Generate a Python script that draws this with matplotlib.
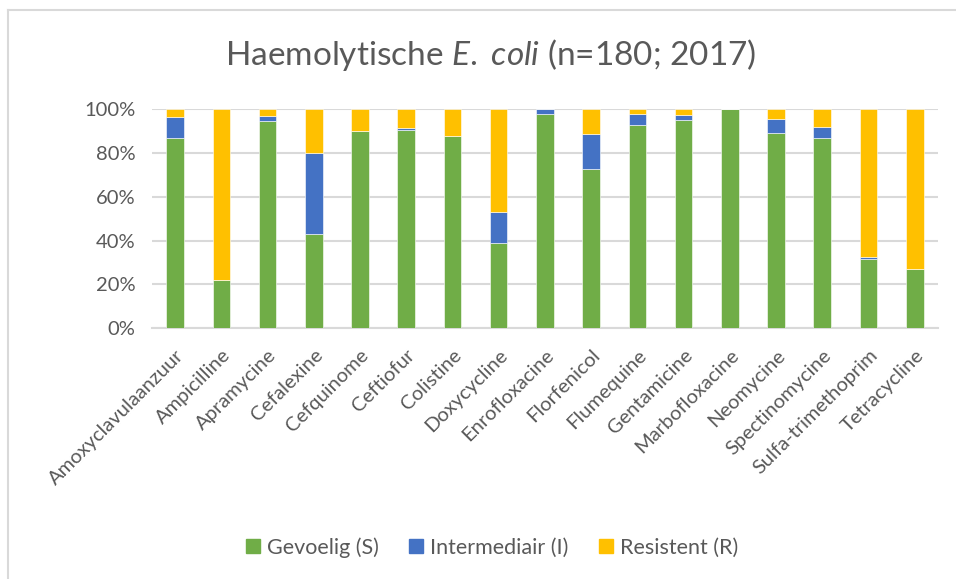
import matplotlib
matplotlib.use("Agg")
import matplotlib.pyplot as plt
import matplotlib.transforms as mtransforms
from matplotlib.lines import Line2D
import numpy as np

plt.rcParams['font.family'] = ['Lato', 'DejaVu Sans']
plt.rcParams['mathtext.fontset'] = 'custom'
plt.rcParams['mathtext.rm'] = 'Lato'
plt.rcParams['mathtext.it'] = 'Lato:italic'

categories = ["Amoxyclavulaanzuur", "Ampicilline", "Apramycine", "Cefalexine",
              "Cefquinome", "Ceftiofur", "Colistine", "Doxycycline",
              "Enrofloxacine", "Florfenicol", "Flumequine", "Gentamicine",
              "Marbofloxacine", "Neomycine", "Spectinomycine",
              "Sulfa-trimethoprim", "Tetracycline"]

gevoelig = [86.7, 22.0, 94.4, 42.8, 90.0, 90.3, 87.8, 38.9, 97.8, 72.8,
            92.8, 95.0, 100.0, 88.9, 86.7, 31.7, 27.2]
intermediair = [9.5, 0.0, 2.2, 37.2, 0.0, 0.8, 0.0, 13.9, 2.2, 15.6,
                4.7, 2.2, 0.0, 6.7, 5.0, 0.6, 0.0]
resistent = [3.8, 78.0, 3.4, 20.0, 10.0, 8.9, 12.2, 47.2, 0.0, 11.6,
             2.5, 2.8, 0.0, 4.4, 8.3, 67.7, 72.8]

series_names = ["Gevoelig (S)", "Intermediair (I)", "Resistent (R)"]
colors = ["#70AD47", "#4472C4", "#FFC000"]
text_color = "#595959"
grid_color = "#D9D9D9"

fig = plt.figure(figsize=(9.56, 5.79), dpi=100)
ax = fig.add_axes([0.159, 0.433, 0.822, 0.379])

x = np.arange(len(categories))
g = np.array(gevoelig)
i = np.array(intermediair)
r = np.array(resistent)
width = 0.38
ax.bar(x, g, width, color=colors[0], edgecolor="white", linewidth=0.4, zorder=3)
ax.bar(x, i, width, bottom=g, color=colors[1], edgecolor="white", linewidth=0.4, zorder=3)
ax.bar(x, r, width, bottom=g + i, color=colors[2], edgecolor="white", linewidth=0.4, zorder=3)

ax.set_xlim(-0.5, len(categories) - 0.5)
ax.set_ylim(0, 100)
ax.set_yticks(np.arange(0, 101, 20))
ax.set_yticklabels([f"{v}%" for v in range(0, 101, 20)])
ax.yaxis.grid(True, color=grid_color, linewidth=1.5, zorder=0)
ax.set_axisbelow(True)
for s in ["top", "right", "left"]:
    ax.spines[s].set_visible(False)
ax.spines["bottom"].set_color(grid_color)
ax.spines["bottom"].set_linewidth(1.5)
ax.tick_params(axis="both", length=0, colors=text_color, labelsize=14.5)
ax.tick_params(axis="y", pad=12)

ax.set_xticks(x)
ax.set_xticklabels(categories, rotation=45, ha="right", rotation_mode="anchor",
                   color=text_color, fontsize=14.5)
# nudge rotated labels so their ends sit just right of the tick, like Excel
shift = mtransforms.ScaledTranslation(1 / 100, 0, fig.dpi_scale_trans)
for lbl in ax.get_xticklabels():
    lbl.set_transform(lbl.get_transform() + shift)
ax.tick_params(axis="x", pad=13)

fig.text(0.513, 0.905, r"Haemolytische $\mathit{E.}$ $\mathit{coli}$ (n=180; 2017)",
         ha="center", va="center", fontsize=24, color=text_color)

handles = [Line2D([0], [0], marker="s", linestyle="none", markersize=10,
                  markerfacecolor=c, markeredgecolor=c) for c in colors]
fig.legend(handles, series_names, loc="center", bbox_to_anchor=(0.514, 0.054),
           ncol=3, frameon=False, fontsize=15.5, labelcolor=text_color,
           handlelength=0.8, handletextpad=0.25, columnspacing=1.35)

# chart frame (left and top edges visible)
fig.add_artist(Line2D([8 / 956, 8 / 956], [0, 1 - 10 / 579], color=grid_color,
                      linewidth=1.5, transform=fig.transFigure))
fig.add_artist(Line2D([8 / 956, 1], [1 - 10 / 579, 1 - 10 / 579], color=grid_color,
                      linewidth=1.5, transform=fig.transFigure))

fig.savefig("out.png", dpi=100)
